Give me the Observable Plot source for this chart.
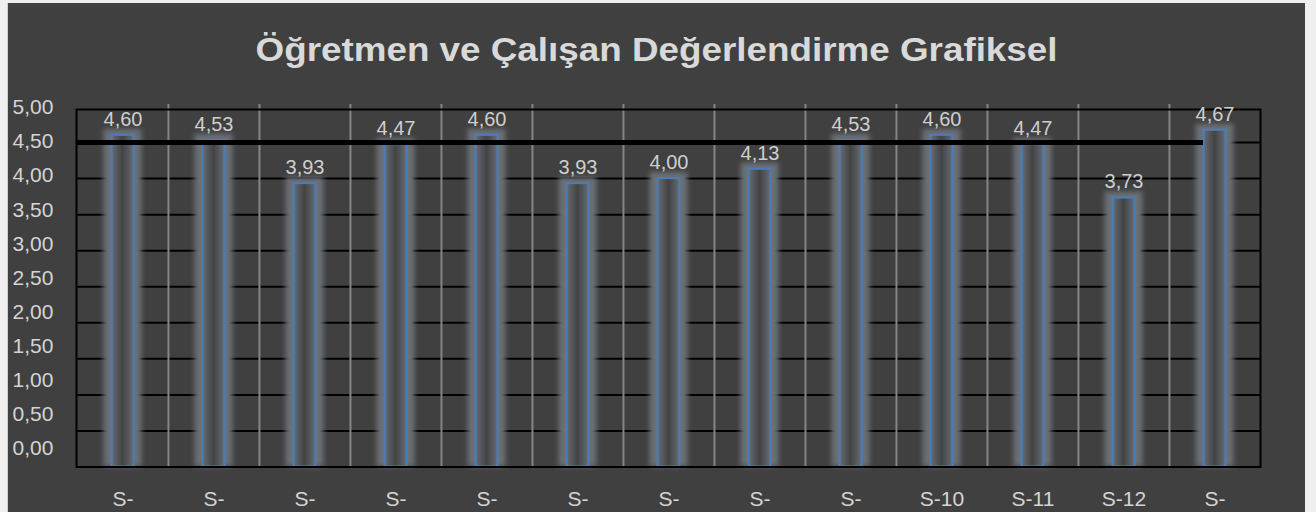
<!DOCTYPE html>
<html><head><meta charset="utf-8">
<script src="https://cdn.jsdelivr.net/npm/d3@7"></script>
<script src="https://cdn.jsdelivr.net/npm/@observablehq/plot@0.6"></script>
<style>
html,body{margin:0;padding:0;background:#efefef;width:1316px;height:512px;overflow:hidden;}
#bg{position:absolute;left:7px;top:3px;width:1297px;height:509px;background:#404040;border-left:1px solid #cfcfcf;}
#chart,#yaxis{position:absolute;left:0;top:0;}
</style></head><body>
<div id="bg"></div><div id="chart"></div><div id="yaxis"></div>
<script>
const title = "Öğretmen ve Çalışan Değerlendirme Grafiksel";
const categories = ["S-1","S-2","S-3","S-4","S-5","S-6","S-7","S-8","S-9","S-10","S-11","S-12","S-13"];
const categoryLabels = ["S-","S-","S-","S-","S-","S-","S-","S-","S-","S-10","S-11","S-12","S-"];
const values = [4.60,4.53,3.93,4.47,4.60,3.93,4.00,4.13,4.53,4.60,4.47,3.73,4.67];
const yTicks = [0,0.5,1,1.5,2,2.5,3,3.5,4,4.5,5];
const targetValue = 4.5;

const W = 1316, H = 512, mL = 76, mR = 56, mT = 106, mB = 45.5;
const n = categories.length;
const bw = (W - mL - mR) / n;
const data = categories.map((c, i) => ({cat: c, value: values[i]}));
const fmt = v => d3.format(".2f")(v).replace(".", ",");
const labelOf = Object.fromEntries(categories.map((c, i) => [c, categoryLabels[i]]));
const font = "'Liberation Sans', Arial, sans-serif";

const defs = () => {
  const d = d3.create("svg:defs");
  const g = d.append("linearGradient").attr("id", "barFill")
    .attr("x1", "0").attr("x2", "1").attr("y1", "0").attr("y2", "0");
  [[0, "#686d74"], [0.3, "#505357"], [0.5, "#444444"], [0.7, "#505357"], [1, "#686d74"]]
    .forEach(([o, c]) => g.append("stop").attr("offset", o).attr("stop-color", c));
  d.append("filter").attr("id", "glowBlur")
    .attr("x", "-10%").attr("y", "-10%").attr("width", "120%").attr("height", "120%")
    .append("feGaussianBlur").attr("stdDeviation", 2.5);
  return d.node();
};

const chart = Plot.plot({
  width: W, height: H,
  marginLeft: mL, marginRight: mR, marginTop: mT, marginBottom: mB,
  style: {background: "transparent", color: "#d4d4d4", fontFamily: font, fontSize: "21px", overflow: "visible"},
  x: {domain: categories, padding: 0, label: null},
  y: {domain: [0, 5], axis: null},
  marks: [
    defs,
    Plot.ruleY(yTicks.filter(v => v < 5), {stroke: "#000", strokeWidth: 2}),
    Plot.ruleX(categories.slice(1), {x: d => d, dx: -bw / 2, stroke: "#858585", strokeWidth: 2, insetTop: -2}),
    Plot.barY(data, {x: "cat", y: "value", fill: "#6a6f76",
      insetLeft: (bw - 38) / 2, insetRight: (bw - 38) / 2, insetTop: -6, ariaDescription: "glow"}),
    Plot.barY(data, {x: "cat", y: "value", fill: "url(#barFill)", stroke: "#4a7ebb", strokeWidth: 2,
      insetLeft: (bw - 22) / 2, insetRight: (bw - 22) / 2}),
    Plot.ruleY([targetValue], {stroke: "#000", strokeWidth: 5, insetRight: 57}),
    Plot.frame({stroke: "#000", strokeWidth: 2, insetTop: 3}),
    Plot.text(data, {x: "cat", y: "value", text: d => fmt(d.value), dy: -16, fill: "#cfcfcf", fontSize: 20}),
    Plot.axisX({tickSize: 0, tickPadding: 24, tickFormat: c => labelOf[c], fontSize: 21, fill: "#d4d4d4", label: null}),
    Plot.text([title], {frameAnchor: "top", lineAnchor: "middle", dy: -56, dx: -12, fontSize: 34, fontWeight: "bold", fill: "#d9d9d9", ariaDescription: "title"})
  ]
});
d3.select(chart).selectAll('g[aria-description="glow"]').attr("filter", "url(#glowBlur)");
d3.select(chart).selectAll('g[aria-description="title"] text')
  .attr("textLength", 802).attr("lengthAdjust", "spacingAndGlyphs");
document.getElementById("chart").append(chart);

const yAxis = Plot.plot({
  width: W, height: H,
  marginLeft: 12, marginRight: 0, marginTop: 107, marginBottom: 64,
  style: {background: "transparent", color: "#d4d4d4", fontFamily: font, fontSize: "21px", overflow: "visible"},
  y: {domain: [0, 5], label: null},
  marks: [
    Plot.axisY(yTicks, {anchor: "left", tickSize: 0, tickPadding: 0, textAnchor: "start", tickFormat: fmt, fontSize: 21, fill: "#d4d4d4", label: null})
  ]
});
document.getElementById("yaxis").append(yAxis);
</script>
</body></html>
